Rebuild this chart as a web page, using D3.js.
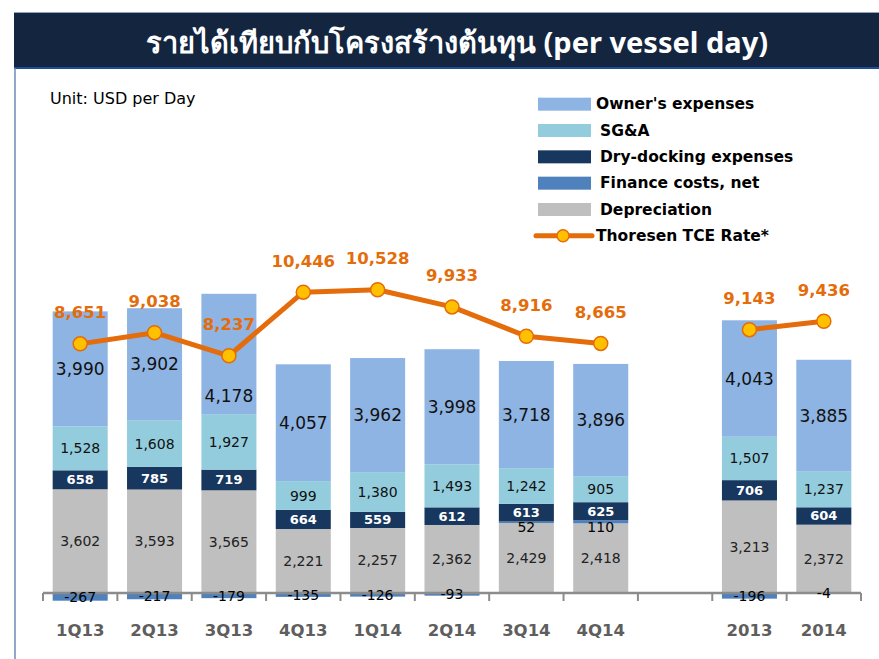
<!DOCTYPE html>
<html>
<head>
<meta charset="utf-8">
<script src="https://cdn.jsdelivr.net/npm/d3@7/dist/d3.min.js"></script>
<style>
  html, body { margin: 0; padding: 0; background: #ffffff; }
  svg { display: block; }
</style>
</head>
<body>
<svg id="chart" width="879" height="659"></svg>
<script>
// ---------------- DATA ----------------
const categories   = ["1Q13","2Q13","3Q13","4Q13","1Q14","2Q14","3Q14","4Q14","2013","2014"];
const quarterCats  = ["1Q13","2Q13","3Q13","4Q13","1Q14","2Q14","3Q14","4Q14"];
const annualCats   = ["2013","2014"];
const depreciation = [3602, 3593, 3565, 2221, 2257, 2362, 2429, 2418, 3213, 2372];
const financeCosts = [-267, -217, -179, -135, -126, -93, 52, 110, -196, -4];
const dryDocking   = [658, 785, 719, 664, 559, 612, 613, 625, 706, 604];
const sga          = [1528, 1608, 1927, 999, 1380, 1493, 1242, 905, 1507, 1237];
const ownerExp     = [3990, 3902, 4178, 4057, 3962, 3998, 3718, 3896, 4043, 3885];
const tceRate      = [8651, 9038, 8237, 10446, 10528, 9933, 8916, 8665, 9143, 9436];

const seriesNames  = ["Depreciation","Finance costs, net","Dry-docking expenses","SG&A","Owner's expenses"];
const legendOrder  = ["Owner's expenses","SG&A","Dry-docking expenses","Finance costs, net","Depreciation"];
const lineName     = "Thoresen TCE Rate*";
const titleText    = "รายได้เทียบกับโครงสร้างต้นทุน (per vessel day)";
const unitText     = "Unit: USD per Day";

// ---------------- STYLE ----------------
const colors = {
  "Owner's expenses": "#8EB4E3",
  "SG&A": "#93CDDD",
  "Dry-docking expenses": "#17375E",
  "Finance costs, net": "#4F81BD",
  "Depreciation": "#BFBFBF"
};
const lineColor = "#E46C0A";
const markerFill = "#FFC000";
const numFont = "'DejaVu Sans', Verdana, sans-serif";
// label nudges (px) to keep labels clear of the line, as in the original
const ownerLabelNudge = { "3Q13": 42 };

const svg = d3.select("#chart");

// Title bar
svg.append("rect").attr("x", 14).attr("y", 12).attr("width", 865).attr("height", 56)
  .attr("fill", "#13253F");
svg.append("line").attr("x1", 14).attr("x2", 879).attr("y1", 12.5).attr("y2", 12.5)
  .attr("stroke", "#8FA3C4").attr("stroke-width", 1);
svg.append("line").attr("x1", 14).attr("x2", 879).attr("y1", 68).attr("y2", 68)
  .attr("stroke", "#1F4E99").attr("stroke-width", 2);
svg.append("line").attr("x1", 15).attr("x2", 15).attr("y1", 68).attr("y2", 659)
  .attr("stroke", "#6F8BB5").attr("stroke-width", 1.5);
svg.append("text").attr("x", 457).attr("y", 41)
  .attr("text-anchor", "middle").attr("dominant-baseline", "central")
  .attr("fill", "#ffffff").attr("font-weight", "bold")
  .attr("font-family", "Tahoma, 'Noto Sans', 'DejaVu Sans', sans-serif")
  .attr("font-size", 29).text(titleText);

svg.append("text").attr("x", 50).attr("y", 98)
  .attr("dominant-baseline", "central")
  .attr("font-family", numFont)
  .attr("font-size", 16).attr("fill", "#000").text(unitText);

// ---------------- SCALES ----------------
const domainKeys = quarterCats.concat(["__gap__"]).concat(annualCats);
const x = d3.scaleBand().domain(domainKeys).range([43, 861]).paddingInner(0.26).paddingOuter(0.13);
const y = d3.scaleLinear().domain([0, 10000]).range([593, 305]);

// rows
const rows = categories.map((c, i) => ({
  cat: c,
  "Depreciation": depreciation[i],
  "Finance costs, net": financeCosts[i],
  "Dry-docking expenses": dryDocking[i],
  "SG&A": sga[i],
  "Owner's expenses": ownerExp[i],
  tce: tceRate[i]
}));

const stack = d3.stack().keys(seriesNames).offset(d3.stackOffsetDiverging);
const stacked = stack(rows);

// ---------------- BARS ----------------
const gBars = svg.append("g");
stacked.forEach(s => {
  gBars.selectAll(null).data(s).enter().append("rect")
    .attr("x", d => x(d.data.cat))
    .attr("width", x.bandwidth())
    .attr("y", d => y(Math.max(d[0], d[1])))
    .attr("height", d => Math.abs(y(d[0]) - y(d[1])))
    .attr("fill", colors[s.key]);
});

// ---------------- AXIS ----------------
const axisG = svg.append("g");
const step = x.step();
const bounds = d3.range(domainKeys.length + 1).map(i => 43 + i * step);
axisG.append("line").attr("x1", 43).attr("x2", 861).attr("y1", y(0)).attr("y2", y(0))
  .attr("stroke", "#8C8C8C").attr("stroke-width", 2.5);
axisG.selectAll(null).data(bounds).enter().append("line")
  .attr("x1", d => d).attr("x2", d => d)
  .attr("y1", y(0)).attr("y2", y(0) + 8)
  .attr("stroke", "#8C8C8C").attr("stroke-width", 2);

const xAxis = d3.axisBottom(x).tickSize(0).tickPadding(0)
  .tickFormat(d => d === "__gap__" ? "" : d);
const xa = svg.append("g").attr("transform", `translate(0,${y(0)})`).call(xAxis);
xa.select(".domain").remove();
xa.selectAll("text")
  .attr("y", 37).attr("dy", "0.35em")
  .attr("font-family", numFont).attr("font-weight", "bold")
  .attr("font-size", 16.5).attr("fill", "#5E5E5E");

// ---------------- SEGMENT LABELS ----------------
const fmt = v => d3.format(",")(v).replace("\u2212", "-");
const labelStyle = {
  "Owner's expenses": {size: 17, weight: "normal", color: "#111"},
  "SG&A": {size: 14, weight: "normal", color: "#111"},
  "Dry-docking expenses": {size: 13, weight: "bold", color: "#ffffff"},
  "Finance costs, net": {size: 14, weight: "normal", color: "#000"},
  "Depreciation": {size: 14, weight: "normal", color: "#222"}
};
stacked.forEach(s => {
  const st = labelStyle[s.key];
  svg.append("g").selectAll(null).data(s).enter().append("text")
    .attr("x", d => x(d.data.cat) + x.bandwidth() / 2)
    .attr("y", d => (y(d[0]) + y(d[1])) / 2 +
      (s.key === "Owner's expenses" ? (ownerLabelNudge[d.data.cat] || 0) : 0) +
      (s.key === "Finance costs, net" && d.data[s.key] > 0 ? 5 : 0))
    .attr("text-anchor", "middle").attr("dominant-baseline", "central")
    .attr("font-family", numFont).attr("font-size", st.size)
    .attr("font-weight", st.weight).attr("fill", st.color)
    .text(d => fmt(d.data[s.key]));
});

// ---------------- LINE ----------------
const lineGen = d3.line().x(d => x(d.cat) + x.bandwidth() / 2).y(d => y(d.tce));
const qRows = rows.filter(r => quarterCats.includes(r.cat));
const aRows = rows.filter(r => annualCats.includes(r.cat));
[qRows, aRows].forEach(seg => {
  svg.append("path").datum(seg).attr("d", lineGen)
    .attr("fill", "none").attr("stroke", lineColor).attr("stroke-width", 5)
    .attr("stroke-linejoin", "round");
});
svg.append("g").selectAll(null).data(rows).enter().append("circle")
  .attr("cx", d => x(d.cat) + x.bandwidth() / 2).attr("cy", d => y(d.tce))
  .attr("r", 7).attr("fill", markerFill).attr("stroke", lineColor).attr("stroke-width", 1.5);
svg.append("g").selectAll(null).data(rows).enter().append("text")
  .attr("x", d => x(d.cat) + x.bandwidth() / 2).attr("y", d => y(d.tce) - 31)
  .attr("text-anchor", "middle").attr("dominant-baseline", "central")
  .attr("font-family", numFont).attr("font-weight", "bold").attr("font-size", 16.5)
  .attr("fill", lineColor).text(d => fmt(d.tce));

// ---------------- LEGEND ----------------
const lg = svg.append("g");
const legY = d3.scaleBand().domain(legendOrder.concat([lineName])).range([91, 249]);
legendOrder.forEach(name => {
  const cy = legY(name) + legY.bandwidth() / 2;
  lg.append("rect").attr("x", 538).attr("y", cy - 6.5).attr("width", 53).attr("height", 13)
    .attr("fill", colors[name]);
  lg.append("text").attr("x", name === "Owner's expenses" ? 596 : 600).attr("y", cy)
    .attr("dominant-baseline", "central")
    .attr("font-family", numFont).attr("font-weight", "bold").attr("font-size", 15.5)
    .attr("fill", "#000").text(name);
});
{
  const cy = legY(lineName) + legY.bandwidth() / 2;
  lg.append("line").attr("x1", 536).attr("x2", 592).attr("y1", cy).attr("y2", cy)
    .attr("stroke", lineColor).attr("stroke-width", 5).attr("stroke-linecap", "round");
  lg.append("circle").attr("cx", 563).attr("cy", cy).attr("r", 6)
    .attr("fill", markerFill).attr("stroke", lineColor).attr("stroke-width", 1.5);
  lg.append("text").attr("x", 596).attr("y", cy)
    .attr("dominant-baseline", "central")
    .attr("font-family", numFont).attr("font-weight", "bold").attr("font-size", 15.5)
    .attr("fill", "#000").text(lineName);
}
</script>
</body>
</html>
